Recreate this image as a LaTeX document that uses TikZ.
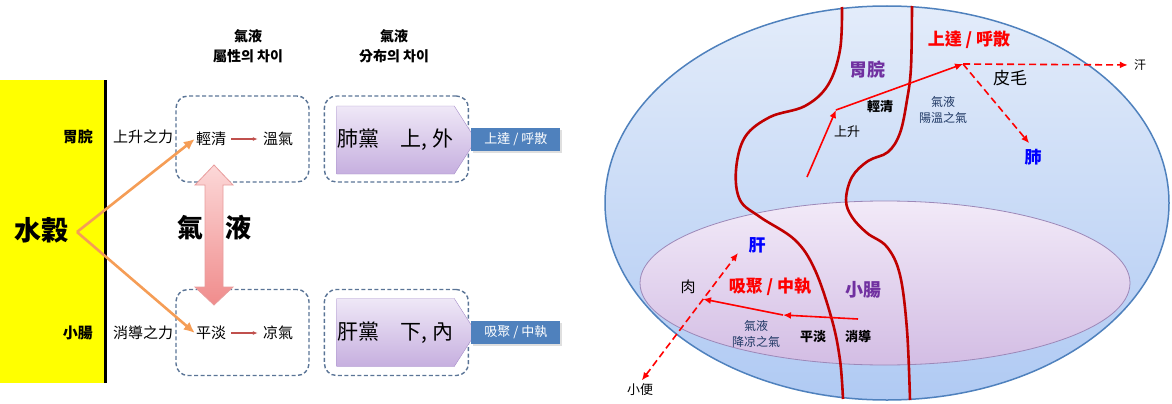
\documentclass[tikz,border=0pt]{standalone}
\usepackage{fontspec}
\setmainfont{Noto Sans CJK TC}
\usetikzlibrary{positioning, arrows.meta, shapes.geometric, shapes.symbols, shadows}
\definecolor{grain}{HTML}{FFFF00}
\definecolor{orangeln}{HTML}{F59D56}
\definecolor{boxblue}{HTML}{5A7496}
\definecolor{chevtop}{HTML}{EFE8F7}
\definecolor{chevbot}{HTML}{C6AFDF}
\definecolor{chevedge}{HTML}{A48CC8}
\definecolor{tagblue}{HTML}{4F81BD}
\definecolor{pinktop}{HTML}{FCD8D8}
\definecolor{pinkbot}{HTML}{F08C8C}
\definecolor{pinkedge}{HTML}{E89C9C}
\definecolor{smallarr}{HTML}{C0504D}
\definecolor{bodytop}{HTML}{E3ECFA}
\definecolor{bodybot}{HTML}{B0CAF3}
\definecolor{bodyedge}{HTML}{4F81BD}
\definecolor{guttop}{HTML}{F2EAF8}
\definecolor{gutbot}{HTML}{D3BDE4}
\definecolor{gutedge}{HTML}{9C88B8}
\definecolor{organred}{HTML}{C00000}
\definecolor{organpurple}{HTML}{7030A0}
\definecolor{flownavy}{HTML}{1F3864}
\newcommand{\fsz}[1]{\fontsize{#1}{#1}\selectfont}

\begin{document}
\begin{tikzpicture}[x=1pt, y=-1pt,
    every node/.style={inner sep=1pt},
    txt/.style={font=\fsz{15}},
    hdr/.style={font=\fontsize{14}{20}\selectfont\bfseries, align=center},
    dbox/.style={
      draw=boxblue, dash pattern=on 4pt off 2.5pt, line width=1.4pt,
      rounded corners=12pt, minimum width=133pt, minimum height=86pt
    },
    chev/.style={
      shape=signal, signal to=east, signal pointer angle=115,
      draw=chevedge, top color=chevtop, bottom color=chevbot,
      minimum width=133pt, minimum height=68pt, font=\fsz{21}
    },
    tag/.style={
      fill=tagblue, text=white, font=\fsz{13},
      minimum width=89pt, minimum height=23pt,
      drop shadow={opacity=0.25, shadow xshift=2pt, shadow yshift=-2pt}
    },
    body/.style={
      ellipse, draw=bodyedge, line width=1.5pt, top color=bodytop, bottom color=bodybot,
      minimum width=564pt, minimum height=394pt, inner sep=0pt
    },
    gut/.style={
      ellipse, draw=gutedge, line width=0.8pt, top color=guttop, bottom color=gutbot,
      minimum width=490pt, minimum height=164pt, inner sep=0pt
    },
    organ/.style={draw=organred, line width=2.6pt},
    orarr/.style={-{Latex[length=11pt, width=10pt]}, draw=orangeln, line width=2.6pt},
    smallarrow/.style={-{Latex[length=5pt, width=4pt]}, draw=smallarr, line width=1.2pt},
    redarr/.style={-{Latex[length=8pt, width=7pt]}, red, line width=1.6pt},
    dasharr/.style={redarr, dash pattern=on 7pt off 4pt}
]
  \useasboundingbox (0,0) rectangle (1172,404);

  \fill[grain] (0,80) rectangle (104,383);
  \draw[line width=3pt] (105,80) -- (105,383);

  \node[font=\fsz{27}\bfseries] (food) at (41,230) {水穀};
  \node[font=\fsz{15}\bfseries, anchor=east] (wei) at (94,137) {胃脘};
  \node[font=\fsz{15}\bfseries, anchor=east] (chang) at (94,333) {小腸};
  \node[txt] (upforce) at (143,137) {上升之力};
  \node[txt] (downforce) at (143,333) {消導之力};

  \node[hdr] (hdrprop) at (248,46) {氣液\\屬性의 차이};
  \node[hdr] (hdrdist) at (394,46) {氣液\\分布의 차이};

  \node[dbox] (propup) at (242.5,139) {};
  \node[dbox] (propdown) at (242.5,332.5) {};
  \node[dbox, minimum width=144pt, right=14pt of propup] (distup) {};
  \node[dbox, minimum width=144pt, right=14pt of propdown] (distdown) {};

  \node[txt] (light) at (211,139) {輕清};
  \node[txt] (warm) at (278,139) {溫氣};
  \node[txt] (plain) at (211,333) {平淡};
  \node[txt] (cool) at (278,333) {凉氣};
  \draw[smallarrow, shorten <=4pt, shorten >=4pt] (light) -- (warm);
  \draw[smallarrow, shorten <=4pt, shorten >=4pt] (plain) -- (cool);

  \node[chev] (lungside) at (395.5,140) {肺黨\quad 上, 外};
  \node[chev] (liverside) at (395.5,332.5) {肝黨\quad 下, 內};
  \node[tag, right=2pt of distup] (spread) {上達 / 呼散};
  \node[tag, right=2pt of distdown] (gather) {吸聚 / 中執};

  \shade[top color=pinktop, bottom color=pinkbot, draw=pinkedge, line width=0.8pt]
    (205,185) -- (195,185) -- (214,165) -- (233,185) -- (223,185) -- (223,287)
    -- (233,287) -- (214,305) -- (195,287) -- (205,287) -- cycle;
  \node[font=\fsz{26}\bfseries] (qi) at (190,228) {氣};
  \node[font=\fsz{26}\bfseries] (ye) at (238,228) {液};

  \coordinate (fork) at (77,232);
  \draw[orarr] (fork) -- (light.west);
  \draw[orarr] (fork) -- (plain.west);

  \node[body] (body) at (887,203) {};
  \node[gut] (gut) at (885,283) {};

  \draw[organ] plot[smooth, tension=0.6] coordinates {(842,7) (840,50) (828,85) (805,106)
    (770,117) (745,137) (736,170) (740,200) (760,217) (795,240) (815,270) (832,320)
    (840,360) (843,399)};
  \draw[organ] plot[smooth, tension=0.6] coordinates {(912,6) (911,67) (907,100) (900,133)
    (888,152) (868,161) (852,177) (846,200) (852,217) (867,233) (887,247) (900,275)
    (907,330) (910,400)};

  \node[font=\fsz{18}\bfseries, text=organpurple] (weiin) at (867,70) {胃脘};
  \node[font=\fsz{17}\bfseries, text=red] (upspread) at (969,40) {上達 / 呼散};
  \node[font=\fsz{17}] (skinhair) at (1010,78) {皮毛};
  \node[font=\fsz{12}] (sweat) at (1140,65) {汗};
  \node[font=\fsz{17}\bfseries, text=blue] (lung) at (1033,157) {肺};
  \node[font=\fsz{13}\bfseries] (lightin) at (880,107) {輕清};
  \node[font=\fsz{13}] (rise) at (847,132) {上升};
  \node[font=\fontsize{12}{16}\selectfont, align=center, text=flownavy] (warmqi) at (943,110) {氣液\\陽溫之氣};

  \node[font=\fsz{17}\bfseries, text=blue] (liver) at (757,245) {肝};
  \node[font=\fsz{15}] (flesh) at (688,287) {肉};
  \node[font=\fsz{17}\bfseries, text=red] (downgather) at (770,287) {吸聚 / 中執};
  \node[font=\fsz{18}\bfseries, text=organpurple] (changin) at (863,290) {小腸};
  \node[font=\fontsize{12}{16}\selectfont, align=center, text=flownavy] (coolqi) at (756,334) {氣液\\降凉之氣};
  \node[font=\fsz{13}\bfseries] (plainin) at (813,337) {平淡};
  \node[font=\fsz{13}\bfseries] (digest) at (858,337) {消導};
  \node[font=\fsz{13}] (urine) at (640,390) {小便};

  \coordinate (risefrom) at (807,177);
  \coordinate (risebend) at (836,110);
  \coordinate (skin) at (963,64);
  \draw[redarr] (risefrom) -- (risebend);
  \draw[redarr] (risebend) -- (skin);
  \draw[dasharr, shorten >=5pt] (skin) -- (sweat.west);
  \draw[dasharr, shorten >=6pt] (skin) -- (lung.north);

  \coordinate (digfrom) at (858,319);
  \coordinate (digmid) at (783,315);
  \coordinate (digto) at (703,299);
  \coordinate (livertip) at (738,253);
  \draw[redarr] (digfrom) -- (digmid);
  \draw[redarr] (digmid) -- (digto);
  \draw[dasharr, {Latex[length=8pt, width=7pt]}-{Latex[length=8pt, width=7pt]}, shorten <=3pt] (urine.north) -- (livertip);
\end{tikzpicture}
\end{document}
